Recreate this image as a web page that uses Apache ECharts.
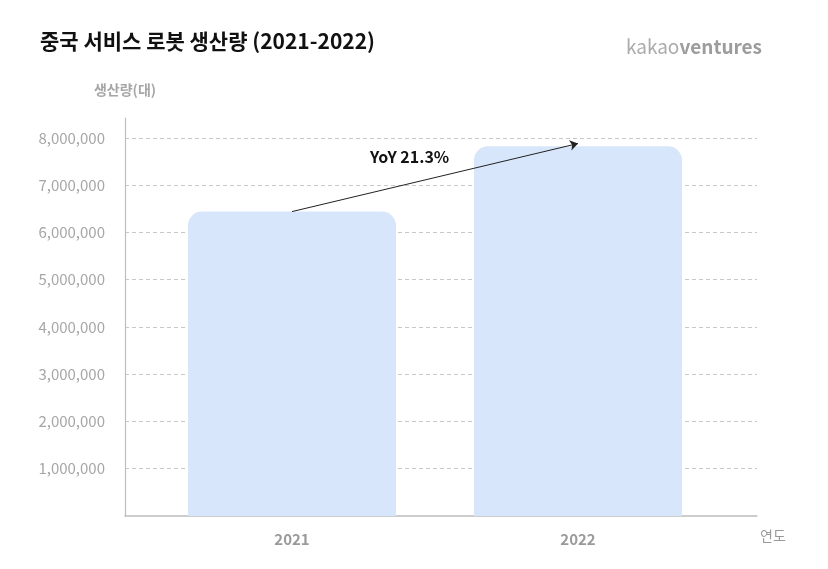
<!DOCTYPE html>
<html><head><meta charset="utf-8">
<script src="https://cdn.jsdelivr.net/npm/echarts@6/dist/echarts.min.js"></script>
<style>html,body{margin:0;padding:0;background:#fff}#c{width:828px;height:569px}</style>
</head><body><div id="c"></div>
<script>
const categories = ['2021', '2022'];
const production = [6440000, 7820000];
const yoyLabel = 'YoY 21.3%';
const titleText = '중국 서비스 로봇 생산량 (2021-2022)';
const yName = '생산량(대)';
const xName = '연도';

const FONT = '"Noto Sans CJK KR", "Noto Sans", sans-serif';
const chart = echarts.init(document.getElementById('c'), null, {renderer: 'canvas'});
const yMax = 8420000;
chart.setOption({
  animation: false,
  backgroundColor: '#fff',
  textStyle: {fontFamily: FONT},
  grid: [
    {left: 125, right: 71, top: 118, bottom: 53},
    {left: 149, right: 107, top: 118, bottom: 53}
  ],
  xAxis: [
    {gridIndex: 0, type: 'category', data: categories,
     axisLine: {lineStyle: {color: '#bdbdbd', width: 1.5}},
     axisTick: {show: false}, axisLabel: {show: false},
     name: xName, nameLocation: 'end', nameGap: 3,
     nameTextStyle: {color: '#999', fontSize: 14, fontFamily: FONT, verticalAlign: 'top', padding: [13, 0, 0, 0]}},
    {gridIndex: 1, type: 'category', data: categories,
     axisLine: {show: false}, axisTick: {show: false},
     axisLabel: {color: '#9a9a9a', fontSize: 15, fontWeight: 600, margin: 16, fontFamily: FONT}}
  ],
  yAxis: [
    {gridIndex: 0, type: 'value', min: 0, max: yMax, interval: 1000000,
     axisLine: {show: true, lineStyle: {color: '#bdbdbd', width: 1.2}},
     axisTick: {show: false},
     axisLabel: {color: '#a6a6a6', fontSize: 15, margin: 20, showMinLabel: false, showMaxLabel: false,
       fontFamily: FONT,
       formatter: v => (v === 0 || v % 1000000 !== 0) ? '' : v.toLocaleString('en-US')},
     splitLine: {show: true, showMinLine: false, showMaxLine: false, lineStyle: {color: '#c8c8c8', type: [4, 3], width: 1}},
     name: yName, nameLocation: 'end', nameGap: 21,
     nameTextStyle: {color: '#a6a6a6', fontSize: 14, fontWeight: 600, fontFamily: FONT}},
    {gridIndex: 1, type: 'value', min: 0, max: yMax, show: false, splitLine: {show: false}}
  ],
  series: [{
    type: 'bar', xAxisIndex: 1, yAxisIndex: 1,
    data: production, barWidth: 208,
    itemStyle: {color: '#d7e6fb', borderRadius: [14, 14, 0, 0]},
    markLine: {
      silent: true, symbol: ['none', 'arrow'], symbolSize: 8,
      lineStyle: {color: '#222', width: 1, type: 'solid'},
      label: {show: false},
      data: [[{coord: [categories[0], production[0]]}, {coord: [categories[1], production[1] + 60000]}]]
    }
  }],
  graphic: [
    {type: 'text', left: 40, top: 31,
     style: {text: titleText, font: 'bold 21px ' + FONT, fill: '#111'}},
    {type: 'text', right: 66, top: 37,
     style: {text: '{a|kakao}{b|ventures}', rich: {
       a: {fontSize: 19, fontFamily: FONT, fill: '#ababab', color: '#ababab'},
       b: {fontSize: 19, fontFamily: FONT, fontWeight: 'bold', fill: '#9c9c9c', color: '#9c9c9c'}}}},
    {type: 'text', left: 370, top: 149,
     style: {text: yoyLabel, font: 'bold 16px ' + FONT, fill: '#111'}}
  ]
});
</script></body></html>
